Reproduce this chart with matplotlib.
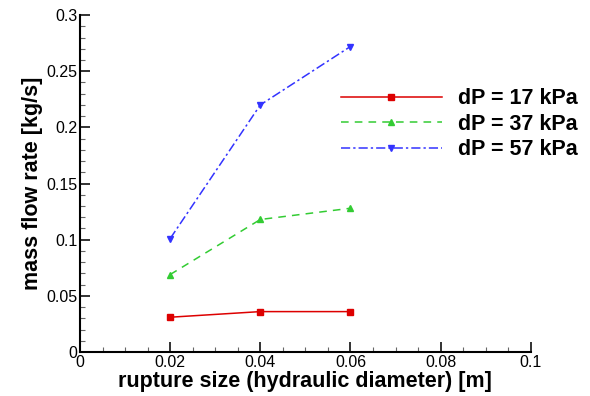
import matplotlib.pyplot as plt
from matplotlib.ticker import MultipleLocator

plt.rcParams['font.family'] = ['Liberation Sans', 'DejaVu Sans']

# 数据
rupture_size = [0.02, 0.04, 0.06]
flow_17 = [0.031, 0.036, 0.036]
flow_37 = [0.069, 0.118, 0.128]
flow_57 = [0.101, 0.220, 0.272]
labels = ['dP = 17 kPa', 'dP = 37 kPa', 'dP = 57 kPa']

fig = plt.figure(figsize=(5.9, 3.96), dpi=100)
ax = fig.add_axes([0.1356, 0.111, 0.764, 0.851])

ax.plot(rupture_size, flow_17, color='#dd0000', ls='-', lw=1.1,
        marker='s', ms=4.5, label=labels[0])
ax.plot(rupture_size, flow_37, color='#33cc33', ls=(0, (5, 4)), lw=1.1,
        marker='^', ms=5, label=labels[1])
ax.plot(rupture_size, flow_57, color='#3333ff', ls=(0, (6, 2, 1.5, 2)), lw=1.1,
        marker='v', ms=5, label=labels[2])

ax.set_xlim(0, 0.1)
ax.set_ylim(0, 0.3)
ax.xaxis.set_major_locator(MultipleLocator(0.02))
ax.xaxis.set_minor_locator(MultipleLocator(0.005))
ax.yaxis.set_major_locator(MultipleLocator(0.05))
ax.yaxis.set_minor_locator(MultipleLocator(0.01))
ax.xaxis.set_major_formatter(plt.FuncFormatter(lambda v, p: f'{v:g}'))
ax.yaxis.set_major_formatter(plt.FuncFormatter(lambda v, p: f'{v:g}'))

for s in ['top', 'right']:
    ax.spines[s].set_visible(False)
for s in ['left', 'bottom']:
    ax.spines[s].set_linewidth(1.5)
ax.tick_params(which='major', direction='in', length=7, width=1.3,
               labelsize=11.5, pad=2, color='#222222')
ax.tick_params(which='minor', direction='in', length=3.5, width=0.8,
               color='#666666')

ax.set_xlabel('rupture size (hydraulic diameter) [m]', fontsize=15.5,
              fontweight='bold', labelpad=1)
ax.set_ylabel('mass flow rate [kg/s]', fontsize=15.5, fontweight='bold',
              labelpad=2)

# 图例位置
ax.legend(loc='upper left', bbox_to_anchor=(0.535, 0.840), frameon=False,
          handlelength=4.7, handletextpad=0.75, labelspacing=0.21,
          prop={'size': 15.5, 'weight': 'bold'})

plt.savefig('out.png', dpi=100)
plt.close()
